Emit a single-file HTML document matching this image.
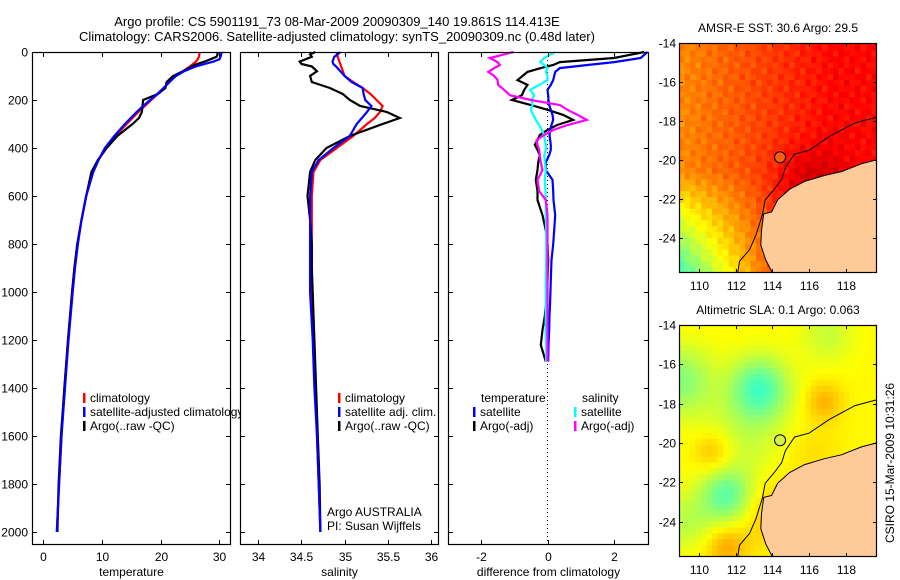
<!DOCTYPE html>
<html><head><meta charset="utf-8"><style>
html,body{margin:0;padding:0;background:#fff;}
svg{display:block;font-family:"Liberation Sans",Arial,sans-serif;}
</style></head><body>
<svg id="svg" width="900" height="580" viewBox="0 0 900 580">
<text x="337" y="26" font-size="13" text-anchor="middle">Argo profile: CS 5901191_73 08-Mar-2009 20090309_140 19.861S 114.413E</text>
<text x="337" y="41" font-size="13" text-anchor="middle">Climatology: CARS2006. Satellite-adjusted climatology: synTS_20090309.nc (0.48d later)</text>
<g id="plots"></g>
</svg>
<script>
const depths=[0,10,20,30,40,50,60,80,100,125,150,175,200,225,250,275,300,350,400,450,500,600,700,800,900,1000,1200,1400,1600,1800,2000];
const tempClim=[26.6,26.6,26.5,26.3,26.0,25.5,25.0,23.8,22.5,21.5,20.5,19.5,18.4,17.3,16.2,15.2,14.2,12.3,10.7,9.4,8.5,7.3,6.5,5.8,5.3,4.9,4.2,3.6,3.1,2.7,2.3];
const tempSat=[30.4,30.3,30.2,30.0,29.0,27.5,26.0,24.0,22.6,21.5,20.5,19.4,18.2,17.0,15.9,14.9,13.9,12.1,10.5,9.4,8.5,7.3,6.5,5.9,5.4,5.0,4.3,3.7,3.1,2.7,2.3];
const tempArgo=[29.6,29.7,29.5,28.5,27.5,26.2,25.3,23.8,22.1,21.0,20.8,19.5,17.0,16.9,16.8,16.3,15.2,12.6,10.8,9.3,8.2,7.3,6.5,5.8,5.3,4.9,4.2,3.6,3.0,2.6,2.4];
const salArgo=[34.66,34.6,34.62,34.55,34.48,34.5,34.62,34.68,34.6,34.62,34.83,34.98,35.06,35.18,35.49,35.64,35.44,35.06,34.79,34.66,34.6,34.57,34.6,34.62,34.62,34.63,34.65,34.67,34.69,34.71,34.72];
const salClim=[34.91,34.91,34.92,34.93,34.94,34.95,34.96,34.98,35.0,35.1,35.21,35.3,35.37,35.44,35.41,35.35,35.26,35.1,34.91,34.72,34.64,34.62,34.62,34.62,34.62,34.62,34.64,34.66,34.68,34.70,34.72];
const salSat=[34.95,34.92,34.88,34.87,34.86,34.87,34.9,34.95,35.0,35.08,35.21,35.22,35.24,35.31,35.26,35.2,35.14,35.06,34.87,34.7,34.62,34.6,34.6,34.6,34.6,34.6,34.63,34.65,34.68,34.70,34.72];
const diffDepths=[0,25,42,54,67,83,100,117,137,158,180,200,221,241,262,283,304,325,346,367,387,408,430,460,492,533,580,617,680,742,800,867,950,1033,1100,1158,1221,1290];
const diffTempArgo=[2.9,2.0,0.37,0.17,-0.2,-0.6,-0.75,-0.9,-0.6,-0.7,-0.77,-1.07,-0.5,0.0,0.47,0.77,0.29,0.0,-0.23,-0.3,-0.38,-0.3,-0.23,-0.28,-0.3,-0.35,-0.3,-0.3,-0.15,-0.05,0.0,0.02,0.0,-0.03,-0.08,-0.15,-0.2,-0.05];
const diffTempSat=[3.0,2.8,2.0,1.2,0.37,0.23,0.2,0.17,0.1,0.0,0.02,0.03,0.05,0.1,0.15,0.17,0.12,0.08,0.06,0.08,0.1,0.1,0.05,-0.05,-0.05,0.15,0.17,0.18,0.23,0.2,0.17,0.12,0.1,0.08,0.06,0.05,0.03,0.02];
const diffSalSat=[0.23,-0.1,-0.22,-0.1,0.0,-0.05,0.0,0.0,-0.25,-0.52,-0.4,-0.47,-0.45,-0.5,-0.43,-0.35,-0.25,-0.17,-0.1,-0.08,-0.05,-0.05,-0.1,-0.08,-0.05,-0.08,-0.06,-0.05,-0.05,-0.04,-0.04,-0.04,-0.05,-0.05,-0.05,-0.06,-0.04,-0.04];
const diffSalArgo=[-1.03,-1.73,-1.5,-1.43,-1.6,-1.78,-1.6,-1.5,-1.48,-1.3,-1.13,-0.5,0.37,0.6,0.9,1.18,0.6,0.17,-0.1,-0.33,-0.3,-0.25,-0.23,-0.2,-0.15,-0.3,-0.25,-0.05,0,0,0,0,0,0,0,0,0,0];
const depthTicks=[0,200,400,600,800,1000,1200,1400,1600,1800,2000];
const tempTicks=[0,10,20,30];
const salTicks=[34,34.5,35,35.5,36];
const diffTicks=[-2,0,2];
const lonTicks=[110,112,114,116,118];
const latTicks=[-14,-16,-18,-20,-22,-24];
const coastLon=[119.66,118.85,117.76,116.83,115.75,114.93,114.28,113.95,113.52,113.4,113.36,113.63,114.0,119.7];
const coastLat=[-20.0,-20.2,-20.6,-20.8,-21.1,-21.5,-22.05,-22.67,-22.77,-23.6,-24.36,-25.13,-25.8,-25.8];
const shelfLon=[119.7,118.5,117.1,116.0,115.2,114.7,114.5,114.1,113.6,113.45,113.1,112.75,112.2,112.1];
const shelfLat=[-17.8,-18.1,-18.8,-19.5,-19.7,-20.4,-21.0,-21.5,-22.05,-22.8,-23.85,-24.6,-25.2,-25.8];
const argoPos=[114.413,-19.861];

const NS='http://www.w3.org/2000/svg';
const root=document.getElementById('plots');
function mk(tag,attrs,parent){const e=document.createElementNS(NS,tag);for(const k in attrs)e.setAttribute(k,attrs[k]);(parent||root).appendChild(e);return e;}
function txt(s,x,y,anchor,size,parent){const t=mk('text',{x:x,y:y,'text-anchor':anchor||'start','font-size':size||12},parent);t.textContent=s;return t;}

const PT=52,PB=545,yD=d=>52+d*0.24;
function panel(name,L,R,x0,pxPer){
  const g=mk('g',{});
  
  
  mk('rect',{x:L,y:PT,width:R-L,height:PB-PT,fill:'#fff',stroke:'none'},g);
  return {g:g,L:L,R:R,x:v=>x0+v*pxPer};
}
function frame(p,xt,xtLabels,xlabel,showY){
  const g=p.g;
  mk('rect',{x:p.L+.5,y:PT+.5,width:p.R-p.L-1,height:PB-PT-1,fill:'none',stroke:'#000','stroke-width':1.2},g);
  depthTicks.forEach(d=>{const y=Math.round(yD(d))+.5;
    mk('line',{x1:p.L,x2:p.L+5,y1:y,y2:y,stroke:'#000'},g);
    mk('line',{x1:p.R-5,x2:p.R,y1:y,y2:y,stroke:'#000'},g);
    if(showY){const t=txt(String(d),28,y+4,'end',12,g);}
  });
  xt.forEach((v,i)=>{const x=Math.round(p.x(v))+.5;
    mk('line',{x1:x,x2:x,y1:PB-5,y2:PB,stroke:'#000'},g);
    mk('line',{x1:x,x2:x,y1:PT,y2:PT+5,stroke:'#000'},g);
    const t=txt(xtLabels[i],x,561,'middle',12,g);
    
    
  });
  const xl=txt(xlabel,(p.L+p.R)/2,576,'middle',12,g);
  
  
}
function line(p,vals,ds,color,name){
  const pts=vals.map((v,i)=>p.x(v).toFixed(1)+','+yD(ds[i]).toFixed(1)).join(' ');
  const l=mk('polyline',{points:pts,fill:'none',stroke:color,'stroke-width':2.2,'stroke-linejoin':'miter'},p.g);
  
  
}
function legend(g,x,y,color,label,name){
  mk('rect',{x:x,y:y-9,width:2.5,height:10,fill:color},g);
  const t=txt(label,x+7,y,'start',12,g);
  
  
}
const p1=panel('temperature-panel',32,231,43.3,5.87);
line(p1,tempClim,depths,'#f00','temp-climatology-line');
line(p1,tempArgo,depths,'#000','temp-argo-line');
line(p1,tempSat,depths,'#00f','temp-satellite-line');
legend(p1.g,83,402,'#f00','climatology','legend-climatology');
legend(p1.g,83,416,'#00f','satellite-adjusted climatology','legend-satellite-adjusted');
legend(p1.g,83,430,'#000','Argo(..raw -QC)','legend-argo');
frame(p1,tempTicks,tempTicks.map(String),'temperature',true);
const p2=panel('salinity-panel',240,439,258.3-34*86.3,86.3);
line(p2,salClim,depths,'#f00','sal-climatology-line');
line(p2,salArgo,depths,'#000','sal-argo-line');
line(p2,salSat,depths,'#00f','sal-satellite-line');
legend(p2.g,338,402,'#f00','climatology','legend-climatology-sal');
legend(p2.g,338,416,'#00f','satellite adj. clim.','legend-satellite-sal');
legend(p2.g,338,430,'#000','Argo(..raw -QC)','legend-argo-sal');
const a1=txt('Argo AUSTRALIA',327,516,'start',12,p2.g);
const a2=txt('PI: Susan Wijffels',327,530,'start',12,p2.g);
frame(p2,salTicks,['34','34.5','35','35.5','36'],'salinity',false);
const p3=panel('difference-panel',448,649,547.5,33.3);
const zl=mk('line',{x1:p3.x(0),x2:p3.x(0),y1:PT,y2:PB,stroke:'#000','stroke-width':1,'stroke-dasharray':'1,3'},p3.g);


line(p3,diffTempArgo,diffDepths,'#000','diff-temp-argo-line');
line(p3,diffTempSat,diffDepths,'#00f','diff-temp-satellite-line');
line(p3,diffSalSat,diffDepths,'#0ff','diff-sal-satellite-line');
line(p3,diffSalArgo,diffDepths,'#f0f','diff-sal-argo-line');
const lt=txt('temperature',481,402,'start',12,p3.g);
legend(p3.g,473,416,'#00f','satellite','legend-temp-satellite');
legend(p3.g,473,430,'#000','Argo(-adj)','legend-temp-argo');
const ls=txt('salinity',582,402,'start',12,p3.g);
legend(p3.g,574,416,'#0ff','satellite','legend-sal-satellite');
legend(p3.g,574,430,'#f0f','Argo(-adj)','legend-sal-argo');
frame(p3,diffTicks,['-2','0','2'],'difference from climatology',false);

function jet(v){const c=t=>Math.max(0,Math.min(1,t));
  return 'rgb('+Math.round(255*c(1.5-Math.abs(4*v-3)))+','+Math.round(255*c(1.5-Math.abs(4*v-2)))+','+Math.round(255*c(1.5-Math.abs(4*v-1)))+')';}
const gauss=(lo,la,cx,cy,s)=>Math.exp(-((lo-cx)*(lo-cx)+(la-cy)*(la-cy))/(2*s*s));
function sstField(lo,la){const a=(lo-109)/10.8,b=(la+25.8)/11.8;
  let v=0.74+0.13*Math.min(1,a*1.3)-0.3*Math.max(0,1-a/0.5)*Math.max(0,1-b/0.45);
  v+=0.025*Math.sin(lo*7.3+la*3.1)*Math.cos(la*5.7-lo*1.3);
  v+=0.07*gauss(lo,la,116,-21.2,1.3);
  return Math.min(0.97,v);}
function slaField(lo,la){let v=0.63;
  v-=0.17*gauss(lo,la,113.3,-17.2,1.1);v-=0.16*gauss(lo,la,111.5,-22.7,1.0);
  v-=0.12*gauss(lo,la,109.0,-16.8,1.2);v-=0.06*gauss(lo,la,117,-14.5,1.0);
  v-=0.06*gauss(lo,la,112.5,-19.5,1.8);v-=0.07*gauss(lo,la,109.3,-24,1.0);
  v+=0.08*gauss(lo,la,110.8,-20.5,0.8);v+=0.07*gauss(lo,la,116.8,-17.9,0.7);
  v+=0.08*gauss(lo,la,111.5,-25.3,0.8);v+=0.06*gauss(lo,la,113.8,-23.5,1.2);
  v+=0.03*gauss(lo,la,116,-20.5,1.2);
  return v;}
function drawMap(name,T,B,title,field,circleFill,clipId){
  const L=679,R=877,lon0=108.9,lon1=119.7,lat1=-25.8;
  const X=lo=>L+(lo-lon0)/(lon1-lon0)*(R-L);
  const Yp=la=>T+(-14-la)*(B-T)/(-14-lat1);
  const g=mk('g',{});
  
  
  const cp=mk('clipPath',{id:clipId},g);mk('rect',{x:L,y:T,width:R-L,height:B-T},cp);
  const cells=mk('g',{'clip-path':'url(#'+clipId+')'},g);
  const st=0.3;
  for(let lo=lon0;lo<lon1;lo+=st)for(let la=-13.8;la>lat1-st;la-=st){
    const x=X(lo),y=Yp(la);
    mk('rect',{x:x.toFixed(1),y:y.toFixed(1),width:(st/(lon1-lon0)*(R-L)+0.6).toFixed(1),height:(st*(B-T)/11.8+0.6).toFixed(1),fill:jet(field(lo+st/2,la-st/2))},cells);
  }
  const land=mk('polygon',{points:coastLon.map((v,i)=>X(v).toFixed(1)+','+Yp(coastLat[i]).toFixed(1)).join(' ')+' '+X(119.7)+','+Yp(-19.9),fill:'#fdca98',stroke:'#000','stroke-width':1},cells);
  
  
  const sh=mk('polyline',{points:shelfLon.map((v,i)=>X(v).toFixed(1)+','+Yp(shelfLat[i]).toFixed(1)).join(' '),fill:'none',stroke:'#000','stroke-width':1},cells);
  
  
  const c=mk('circle',{cx:X(argoPos[0]),cy:Yp(argoPos[1]),r:5.5,fill:circleFill,stroke:'#000','stroke-width':1},g);
  
  
  mk('rect',{x:L+.5,y:T+.5,width:R-L-1,height:B-T-1,fill:'none',stroke:'#000','stroke-width':1.2},g);
  lonTicks.forEach(v=>{const x=Math.round(X(v))+.5;
    mk('line',{x1:x,x2:x,y1:B-4,y2:B,stroke:'#000'},g);mk('line',{x1:x,x2:x,y1:T,y2:T+4,stroke:'#000'},g);
    const t=txt(String(v),x,B+17,'middle',12,g);});
  latTicks.forEach(v=>{const y=Math.round(Yp(v))+.5;
    mk('line',{x1:L,x2:L+4,y1:y,y2:y,stroke:'#000'},g);mk('line',{x1:R-4,x2:R,y1:y,y2:y,stroke:'#000'},g);
    const t=txt(String(v),676,y+4,'end',12,g);});
  const tt=txt(title,778,T-11,'middle',12,g);
  
  
}
drawMap('sst-map',43,273,'AMSR-E SST: 30.6 Argo: 29.5',sstField,'#f46010','clipA');
drawMap('sla-map',325,557,'Altimetric SLA: 0.1 Argo: 0.063',slaField,'#d8f040','clipB');
const cs=txt('CSIRO 15-Mar-2009 10:31:26',0,0,'middle',12);
cs.setAttribute('transform','translate(894,463) rotate(-90)');


</script>
</body></html>
